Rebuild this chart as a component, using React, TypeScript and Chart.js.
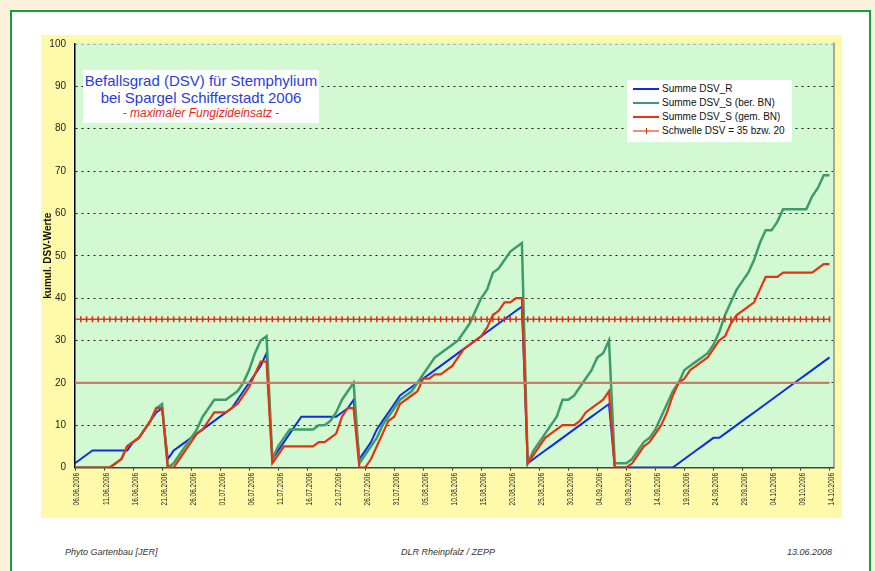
import React, { useEffect, useRef } from "react";
import { Chart, registerables } from "chart.js";

Chart.register(...registerables);

// Tick labels (every 5 days, 06.06.2006 .. 14.10.2006)
const tickLabels = [
  "06.06.2006", "11.06.2006", "16.06.2006", "21.06.2006", "26.06.2006",
  "01.07.2006", "06.07.2006", "11.07.2006", "16.07.2006", "21.07.2006",
  "26.07.2006", "31.07.2006", "05.08.2006", "10.08.2006", "15.08.2006",
  "20.08.2006", "25.08.2006", "30.08.2006", "04.09.2006", "09.09.2006",
  "14.09.2006", "19.09.2006", "24.09.2006", "29.09.2006", "04.10.2006",
  "09.10.2006", "14.10.2006",
];

// Daily cumulative DSV values (06.06.2006 = day 0 ... 14.10.2006 = day 130)
const summeDsvR = [
  1, 2, 3, 4, 4, 4, 4, 4, 4, 4, 6, 7, 9, 11, 13, 14,
  2, 4, 5, 6, 7, 8, 9, 10, 11, 12, 13, 14, 16, 18, 20, 22, 24, 27,
  2, 4, 6, 8, 10, 12, 12, 12, 12, 12, 12, 12, 13, 14, 16,
  2, 4, 6, 9, 11, 13, 15, 17, 18, 19, 20, 21, 22, 23, 24, 25, 26, 27, 28, 29, 30, 31, 32, 33, 34, 35, 36, 37, 38,
  1, 2, 3, 4, 5, 6, 7, 8, 9, 10, 11, 12, 13, 14, 15,
  0, 0, 0, 0, 0, 0, 0, 0, 0, 0, 0,
  1, 2, 3, 4, 5, 6, 7, 7,
  8, 9, 10, 11, 12, 13, 14, 15, 16, 17, 18, 19, 20, 21, 22, 23, 24, 25, 26,
];

const summeDsvSBer = [
  0, 0, 0, 0, 0, 0, 0, 1, 2, 5, 6, 7, 9, 11, 14, 15,
  0, 1, 3, 5, 7, 9, 12, 14, 16, 16, 16, 17, 18, 20, 23, 27, 30, 31,
  2, 5, 7, 9, 9, 9, 9, 9, 10, 10, 11, 13, 16, 18, 20,
  1, 3, 5, 7, 10, 12, 14, 16, 17, 18, 20, 22, 24, 26, 27, 28, 29, 30, 32, 34, 37, 40, 42, 46, 47, 49, 51, 52, 53,
  1, 4, 6, 8, 10, 12, 16, 16, 17, 19, 21, 23, 26, 27, 30,
  1, 1, 1, 2, 4, 6, 7, 9, 12, 15, 18, 20, 23, 24, 25, 26, 27, 29, 32, 36, 39, 42, 44, 46, 49, 53, 56, 56, 58, 61, 61, 61, 61, 61, 64, 66, 69, 69,
];

const summeDsvSGem = [
  0, 0, 0, 0, 0, 0, 0, 1, 2, 5, 6, 7, 9, 11, 14, 14,
  0, 0, 2, 4, 6, 8, 9, 11, 13, 13, 13, 14, 15, 17, 19, 22, 25, 25,
  1, 3, 5, 5, 5, 5, 5, 5, 6, 6, 7, 8, 12, 14, 14,
  0, 0, 2, 5, 8, 11, 12, 15, 16, 17, 18, 21, 21, 22, 22, 23, 24, 26, 28, 29, 30, 31, 33, 36, 37, 39, 39, 40, 40,
  1, 3, 5, 7, 8, 9, 10, 10, 10, 11, 13, 14, 15, 16, 18,
  0, 0, 0, 1, 3, 5, 6, 8, 10, 13, 17, 20, 21, 23, 24, 25, 26, 28, 30, 31, 34, 36, 37, 38, 39, 42, 45, 45, 45, 46, 46, 46, 46, 46, 46, 47, 48, 48,
];

const THRESHOLD_HIGH = 35;
const THRESHOLD_LOW = 20;

const seriesNames = [
  "Summe DSV_R",
  "Summe DSV_S (ber. BN)",
  "Summe DSV_S (gem. BN)",
  "Schwelle DSV = 35 bzw. 20",
];

const COL_R = "#0b2ee6";
const COL_BER = "#3c9c6c";
const COL_GEM = "#e8320f";
const COL_TH = "#e83a22";
const COL_TH_LOW = "#c97c68";

const SANS = "'Liberation Sans', Arial, sans-serif";

const toPoints = (arr: number[]) => arr.map((v, i) => ({ x: i, y: v }));
const constLine = (v: number) => summeDsvR.map((_, i) => ({ x: i, y: v }));

export default function App() {
  const ref = useRef<HTMLCanvasElement>(null);

  useEffect(() => {
    if (!ref.current) return;
    const plotBg = {
      id: "plotBg",
      beforeDraw(chart: any) {
        const { ctx, chartArea: a } = chart;
        ctx.save();
        ctx.fillStyle = "#d3f9d3";
        ctx.fillRect(a.left, a.top - 1.5, a.right - a.left, a.bottom - a.top + 1.5);
        ctx.fillStyle = "#a8a89a";
        ctx.fillRect(a.right, a.top - 1.5, 2, a.bottom - a.top + 2.5);
        ctx.restore();
      },
    };

    // condensed, rotated date labels drawn at the x scale's tick positions
    const xLabels = {
      id: "xLabels",
      afterDraw(chart: any) {
        const s = chart.scales.x;
        const ctx = chart.ctx;
        ctx.save();
        ctx.fillStyle = "#222";
        ctx.font = `9px ${SANS}`;
        ctx.textAlign = "right";
        ctx.textBaseline = "middle";
        tickLabels.forEach((lab, i) => {
          const x = s.getPixelForValue(i * 5) + 2;
          const y = s.top + 5.5;
          ctx.save();
          ctx.translate(x, y);
          ctx.rotate(-Math.PI / 2);
          ctx.scale(0.72, 1);
          ctx.fillText(lab, 0, 0);
          ctx.restore();
        });
        ctx.restore();
      },
    };

    const chart = new Chart(ref.current, {
      type: "line",
      data: {
        datasets: [
          {
            label: seriesNames[0],
            data: toPoints(summeDsvR),
            borderColor: COL_R,
            borderWidth: 2,
            pointRadius: 0,
            tension: 0,
            order: 4,
          },
          {
            label: seriesNames[1],
            data: toPoints(summeDsvSBer),
            borderColor: COL_BER,
            borderWidth: 2.5,
            pointRadius: 0,
            tension: 0,
            order: 3,
          },
          {
            label: seriesNames[2],
            data: toPoints(summeDsvSGem),
            borderColor: COL_GEM,
            borderWidth: 2.2,
            pointRadius: 0,
            tension: 0,
            order: 2,
          },
          {
            label: seriesNames[3],
            data: constLine(THRESHOLD_HIGH),
            borderColor: COL_TH,
            borderWidth: 1.6,
            pointStyle: "line",
            rotation: 90,
            pointRadius: 3,
            pointBorderColor: "#e02818",
            pointBorderWidth: 1.5,
            tension: 0,
            order: 1,
          },
          {
            label: seriesNames[3] + " (20)",
            data: constLine(THRESHOLD_LOW),
            borderColor: COL_TH_LOW,
            borderWidth: 2.2,
            pointRadius: 0,
            tension: 0,
            order: 1,
          },
        ],
      },
      options: {
        responsive: false,
        animation: false,
        devicePixelRatio: 1,
        layout: { autoPadding: false, padding: { top: 9, right: 9, left: 0, bottom: 0 } },
        plugins: {
          legend: { display: false },
          title: { display: false },
          tooltip: { enabled: false },
        },
        scales: {
          x: {
            type: "linear",
            min: 0,
            max: 130.6,
            afterBuildTicks: (s: any) => {
              s.ticks = tickLabels.map((_, i) => ({ value: i * 5 }));
            },
            afterFit: (s: any) => {
              s.height = 50.5;
              s.paddingLeft = 0;
              s.paddingRight = 0;
              s.paddingTop = 0;
              s.paddingBottom = 0;
            },
            ticks: {
              display: false,
              autoSkip: false,
            },
            grid: {
              display: true,
              drawOnChartArea: false,
              drawTicks: true,
              tickLength: 3,
              color: "#222",
            },
            border: { display: true, color: "#444", width: 1.5 },
          },
          y: {
            min: 0,
            max: 100,
            afterFit: (s: any) => {
              s.width = 34;
              s.paddingLeft = 0;
              s.paddingRight = 0;
              s.paddingTop = 0;
              s.paddingBottom = 0;
            },
            ticks: {
              stepSize: 10,
              padding: 9,
              color: "#222",
              font: { family: SANS, size: 10 },
            },
            title: {
              display: true,
              text: "kumul. DSV-Werte",
              color: "#111",
              font: { family: SANS, size: 10, weight: "bold" },
              padding: { top: 1, bottom: 0 },
            },
            grid: {
              display: true,
              drawOnChartArea: true,
              drawTicks: false,
              lineWidth: 1,
              color: (c: any) => (c.tick && c.tick.value === 100 ? "#9a9a9a" : "#1a1a1a"),
            },
            border: { display: true, color: "#000", width: 1.5, dash: [2, 4] },
          },
        },
      },
      plugins: [plotBg, xLabels],
    } as any);

    return () => chart.destroy();
  }, []);

  const legendRow = (i: number, color: string, marker?: boolean) => (
    <div key={i} style={{ position: "relative", height: 14.2, lineHeight: "14.2px" }}>
      <div
        style={{
          position: "absolute",
          left: 6,
          top: 6,
          width: 26,
          height: 2,
          background: color,
        }}
      />
      {marker ? (
        <div
          style={{
            position: "absolute",
            left: 18.5,
            top: 4,
            width: 1.5,
            height: 6,
            background: "#e02818",
          }}
        />
      ) : null}
      <span style={{ position: "absolute", left: 35, top: 0, whiteSpace: "nowrap" }}>{seriesNames[i]}</span>
    </div>
  );

  return (
    <div
      style={{
        position: "fixed",
        left: 0,
        top: 0,
        width: 875,
        height: 571,
        background: "#fdf0dc",
        overflow: "hidden",
        fontFamily: SANS,
      }}
    >
      <div
        style={{
          position: "absolute",
          left: 10,
          top: 10,
          width: 861,
          height: 620,
          border: "2.5px solid #16a03c",
          boxSizing: "border-box",
          background: "#ffffff",
        }}
      />
      <div
        style={{
          position: "absolute",
          left: 41,
          top: 35,
          width: 801,
          height: 483,
          background: "#fffaa9",
        }}
      >
        <canvas ref={ref} width={801} height={483} style={{ display: "block", width: 801, height: 483 }} />
      </div>

      {/* Title box */}
      <div
        style={{
          position: "absolute",
          left: 83,
          top: 70,
          width: 236,
          height: 53,
          background: "#ffffff",
          textAlign: "center",
          paddingTop: 3.4,
          boxSizing: "border-box",
        }}
      >
        <div style={{ color: "#2a3ddc", fontSize: 15, lineHeight: "16.6px", whiteSpace: "nowrap" }}>
          Befallsgrad (DSV) für Stemphylium
        </div>
        <div style={{ color: "#2a3ddc", fontSize: 15, lineHeight: "16.6px", whiteSpace: "nowrap" }}>
          bei Spargel Schifferstadt 2006
        </div>
        <div style={{ color: "#e8281c", fontSize: 12, fontStyle: "italic", lineHeight: "13px", whiteSpace: "nowrap" }}>
          - maximaler Fungizideinsatz -
        </div>
      </div>

      {/* Legend */}
      <div
        style={{
          position: "absolute",
          left: 627,
          top: 80,
          width: 165,
          height: 62,
          background: "#ffffff",
          paddingTop: 1.9,
          boxSizing: "border-box",
          fontSize: 10,
          color: "#111",
        }}
      >
        {legendRow(0, COL_R)}
        {legendRow(1, COL_BER)}
        {legendRow(2, COL_GEM)}
        {legendRow(3, "#f0907a", true)}
      </div>

      {/* Footer */}
      <div style={{ position: "absolute", left: 65, top: 547, fontSize: 9, fontStyle: "italic", color: "#333", whiteSpace: "nowrap" }}>
        Phyto Gartenbau [JER]
      </div>
      <div
        style={{
          position: "absolute",
          left: 348,
          width: 200,
          top: 547,
          textAlign: "center",
          fontSize: 9,
          fontStyle: "italic",
          color: "#333",
          whiteSpace: "nowrap",
        }}
      >
        DLR Rheinpfalz / ZEPP
      </div>
      <div
        style={{
          position: "absolute",
          right: 875 - 832,
          top: 547,
          fontSize: 9,
          fontStyle: "italic",
          color: "#333",
          whiteSpace: "nowrap",
        }}
      >
        13.06.2008
      </div>
    </div>
  );
}
